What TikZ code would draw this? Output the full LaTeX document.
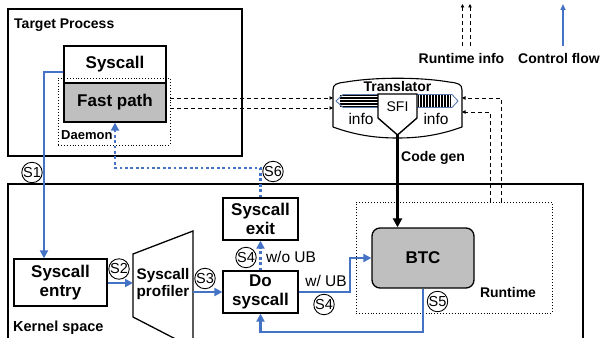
\documentclass[tikz,border=0pt]{standalone}
\usepackage{fontspec}
\setmainfont{Liberation Sans}
\usetikzlibrary{arrows.meta}
\definecolor{cblue}{HTML}{4472C4}
\definecolor{bgray}{HTML}{BFBFBF}
\definecolor{hatch}{HTML}{5A7AB0}
\tikzset{
  box/.style={draw, line width=1.3pt, align=center, inner sep=0pt,
    font=\bfseries\fontsize{17}{19.5}\selectfont},
  lbl/.style={inner sep=0pt, font=\bfseries\fontsize{14}{16}\selectfont},
  rlbl/.style={inner sep=0pt, font=\fontsize{15.5}{17}\selectfont},
  circ/.style={circle, draw, line width=0.9pt, minimum size=19pt, inner sep=0pt,
    font=\fontsize{14.5}{15}\selectfont},
  cf/.style={draw=cblue, line width=2.3pt, -{Triangle[length=8pt,width=8pt]}},
  cfdot/.style={draw=cblue, line width=2.8pt, dash pattern=on 2.8pt off 2.6pt,
    -{Triangle[length=8pt,width=8pt]}},
  dsh/.style={draw=black, line width=1pt, dash pattern=on 4pt off 3pt,
    -{Triangle[length=3.5pt,width=3.5pt]}},
  dotbox/.style={draw, line width=0.9pt, dotted, inner sep=0pt},
}
\begin{document}
\begin{tikzpicture}[x=1pt,y=-1pt]
\useasboundingbox (0,0) rectangle (607,337);

% ---------- Target process ----------
\node[draw, line width=1.8pt, minimum width=234pt, minimum height=147pt, inner sep=0pt] (tp) at (125,82.5) {};
\node[lbl, anchor=west] (tplbl) at (14,25) {Target Process};
\node[box, minimum width=102pt, minimum height=37pt] (sys) at (115,64.5) {Syscall};
\node[box, fill=bgray, minimum width=102pt, minimum height=39pt] (fast) at (115,102.5) {Fast path};
\node[dotbox, minimum width=112pt, minimum height=67pt] (daemon) at (114,111.5) {};
\node[lbl, font=\bfseries\fontsize{13}{15}\selectfont, anchor=west] (daemonlbl) at (61,135) {Daemon};

% ---------- Kernel space ----------
\node[draw, line width=1.5pt, minimum width=575pt, minimum height=170pt, inner sep=0pt] (ks) at (295.5,269) {};
\node[lbl, font=\bfseries\fontsize{14.5}{16}\selectfont, anchor=west] (kslbl) at (13,328) {Kernel space};

\node[box, minimum width=93pt, minimum height=47pt] (entry) at (60.5,282.5) {Syscall\\entry};
\draw[line width=1.3pt] (133,254) -- (193,231) -- (193,348) -- (133,317) -- cycle;
\node[box, draw=none, font=\bfseries\fontsize{15.3}{16.5}\selectfont] (prof) at (163,284) {Syscall\\profiler};
\coordinate (profW) at (133,283);
\coordinate (profE) at (193,292);
\node[box, minimum width=75pt, minimum height=42pt] (dosys) at (260.5,292) {Do\\syscall};
\node[box, minimum width=75pt, minimum height=42pt] (exit) at (260.5,219) {Syscall\\exit};

\node[dotbox, minimum width=196pt, minimum height=111pt] (rt) at (454,257.5) {};
\node[lbl] (rtlbl) at (508,292) {Runtime};
\node[box, fill=bgray, rounded corners=8pt, minimum width=102pt, minimum height=60pt] (btc) at (423,258) {BTC};

% ---------- Translator ----------
\draw[line width=1.1pt] (333,127) -- (333,90) .. controls (333,84) and (337,83) .. (346,82)
  .. controls (375,77) and (420,77) .. (449,82) .. controls (458,83) and (462,84) .. (462,90)
  -- (462,127) .. controls (440,135) and (420,138) .. (397.5,138)
  .. controls (375,138) and (355,135) .. (333,127);
\node[lbl] (trlbl) at (397.5,86) {Translator};
% left hatched arrow
\foreach \yy in {95.5,97,...,107} \draw[line width=0.6pt] (340,\yy) -- (378,\yy);
\draw[hatch, line width=0.9pt] (378,94.5) -- (343,94.5) -- (336,101) -- (343,107.5) -- (378,107.5);
% right hatched arrow
\foreach \xx in {418.5,420,...,451} \draw[line width=0.6pt] (\xx,95) -- (\xx,107);
\draw[hatch, line width=0.9pt] (417,94.5) -- (452,94.5) -- (458,101) -- (452,107.5) -- (417,107.5);
% SFI pentagon
\draw[line width=1.4pt, fill=white] (378,94) -- (417,94) -- (417,118) -- (397.5,135) -- (378,118) -- cycle;
\coordinate (sfitip) at (397.5,135);
\node[rlbl, font=\fontsize{14}{15}\selectfont] (sfi) at (397.5,107) {SFI};
\node[rlbl] (info1) at (361,119) {info};
\node[rlbl] (info2) at (436,119) {info};
\coordinate (trW1) at (333,98);
\coordinate (trW2) at (333,108);
\coordinate (trE1) at (462,98);
\coordinate (trE2) at (462,112);

% code gen
\draw[line width=2.8pt, -{Triangle[length=9pt,width=9pt]}] (sfitip) -- (sfitip |- btc.north);
\node[lbl, anchor=west] (cglbl) at (401,158) {Code gen};

% runtime info dashed
\draw[dsh] (daemon.east |- trW1) -- (trW1);
\draw[dsh] (daemon.east |- trW2) -- (trW2);
\draw[dsh] ([xshift=47pt]rt.north) |- (trE1);
\draw[dsh] ([xshift=36pt]rt.north) |- (trE2);

% circled step labels
\node[circ] (c1) at (32,172.5) {S1};
\node[circ] (c2) at (119,269) {S2};
\node[circ] (c3) at (205,278.5) {S3};
\node[circ] (c4a) at (246,257.5) {S4};
\node[circ] (c6) at (273,171.5) {S6};
\node[circ] (c4b) at (324,304.5) {S4};
\node[circ] (c5) at (437.5,301.5) {S5};

% control flow
\draw[cf] ([yshift=-7.5pt]sys.west) -| ([xshift=-16.5pt]entry.north);
\draw[cf] (entry.east |- profW) -- (profW);
\draw[cf] (profE) -- (profE -| dosys.west);
\draw[cfdot] (dosys.north) -- (exit.south);
\coordinate (s6c) at (260.5,168);
\draw[cfdot] (exit.north) -- (s6c) -| (fast.south);
\coordinate (wub) at (350,292);
\draw[cf] (dosys.east |- wub) -- (wub) |- (btc.west);
\coordinate (s5c) at (423,332);
\draw[cf] (btc.south -| s5c) -- (s5c) -| (dosys.south);

\node[rlbl] (wolbl) at (291,257) {w/o UB};
\node[rlbl] (wlbl) at (326,281) {w/ UB};

% legend
\coordinate (lg1) at (462.5,46);
\coordinate (lg2) at (470,46);
\coordinate (lg3) at (563,46);
\draw[dsh] (lg1) -- ++(0,-42);
\draw[dsh] (lg2) -- ++(0,-42);
\draw[cf, line width=1.6pt, -{Triangle[length=6pt,width=5pt]}] (lg3) -- ++(0,-42);
\node[lbl] (lglbl1) at (461.5,58) {Runtime info};
\node[lbl] (lglbl2) at (559,58) {Control flow};
\end{tikzpicture}
\end{document}
